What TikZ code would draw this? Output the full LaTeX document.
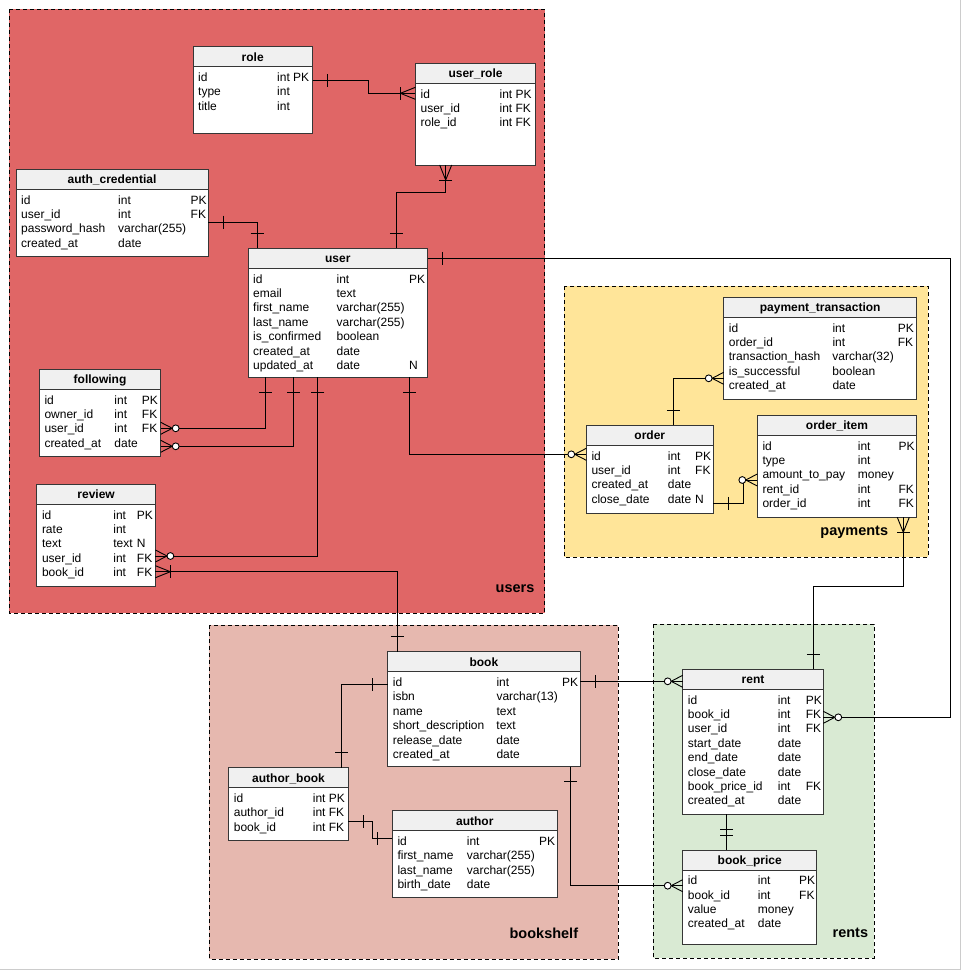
\documentclass[tikz,border=0pt]{standalone}
\RequirePackage{fontspec}
\setmainfont{Liberation Sans}
\RequirePackage{xcolor}
\RequirePackage{tikz}
\usetikzlibrary{calc, positioning}
\definecolor{usersred}{RGB}{224,102,102}
\definecolor{paymentsyellow}{RGB}{255,229,153}
\definecolor{bookshelfpink}{RGB}{230,184,175}
\definecolor{rentsgreen}{RGB}{217,234,211}
\definecolor{headgrey}{RGB}{240,240,240}
\definecolor{tblline}{RGB}{54,54,54}
\definecolor{edgegrey}{RGB}{204,204,204}

% #1 name, #2 x, #3 y, #4 width, #5 height, #6 title, #7 name col, #8 type col, #9 rows
\newcommand{\ertable}[9]{%
  \node[tbl, minimum width=#4pt, minimum height=#5pt] (#1) at (#2,#3) {};
  \node[tblhead, minimum width=#4pt] (#1-head) at (#1.north west) {};
  \node[anchor=base] (#1-title) at ($(#1.north)+(0,14.3)$) {\bfseries #6};
  \node[anchor=north west, inner sep=0pt] (#1-rows) at ($(#1.north west)+(5,24.5)$)
    {\begin{tabular}{@{}p{#7pt}@{}p{#8pt}@{}l@{}}#9\end{tabular}};
}

\begin{document}
\begin{tikzpicture}[x=1pt, y=-1pt, font=\fontsize{12}{14.4}\selectfont,
    tbl/.style={draw=tblline, line width=0.9pt, fill=white, anchor=north west, inner sep=0pt, outer sep=0pt},
    tblhead/.style={draw=tblline, line width=0.9pt, fill=headgrey, anchor=north west, inner sep=0pt, outer sep=0pt, minimum height=20pt},
    grp/.style={draw=black, line width=0.8pt, dash pattern=on 4pt off 3pt},
    grplabel/.style={anchor=base east, inner sep=0pt, font=\fontsize{14.5}{17}\selectfont\bfseries},
    rel/.style={draw=black, line width=0.9pt},
    erone/.pic={\draw[line width=0.9pt] (15,-6.5) -- (15,6.5);},
    ermany/.pic={\draw[line width=0.9pt] (0,-6) -- (15,0) -- (0,6);
                 \draw[line width=0.9pt] (15,-6.5) -- (15,6.5);},
    erzeromany/.pic={\draw[line width=0.9pt] (0,-6) -- (11.6,0) -- (0,6);
                     \draw[line width=0.9pt, fill=white] (15,0) circle (3.4);}]
\useasboundingbox[fill=white] (0,0) rectangle (961,970);
\draw[edgegrey, line width=1.2pt] (960.2,0) -- (960.2,969.2) -- (0,969.2);

% groups
\draw[grp, fill=usersred] (9.3,9.3) rectangle (544.6,613.3);
\draw[grp, fill=paymentsyellow] (564.3,286.3) rectangle (928.3,557.3);
\draw[grp, fill=bookshelfpink] (209.3,625.3) rectangle (618.3,959);
\draw[grp, fill=rentsgreen] (653.3,624.3) rectangle (874.3,958.3);
\node[grplabel] (users-label) at (534.6,592) {users};
\node[grplabel] (payments-label) at (888.3,535) {payments};
\node[grplabel] (bookshelf-label) at (578.3,938) {bookshelf};
\node[grplabel] (rents-label) at (868.3,937) {rents};

% users
\ertable{role}{193}{46.7}{119.5}{86.6}{role}{79}{40}{id & int PK & \\ type & int & \\ title & int &}
\ertable{user_role}{415.4}{63.3}{120.3}{101.7}{user\_role}{79}{40}{id & int PK & \\ user\_id & int FK & \\ role\_id & int FK &}
\ertable{auth_credential}{16}{169.3}{192}{86.7}{auth\_credential}{97}{72.5}{id & int & PK \\ user\_id & int & FK \\ password\_hash & varchar(255) & \\ created\_at & date &}
\ertable{user}{248}{248.3}{179.5}{129}{user}{83.4}{72.6}{id & int & PK \\ email & text & \\ first\_name & varchar(255) & \\ last\_name & varchar(255) & \\ is\_confirmed & boolean & \\ created\_at & date & \\ updated\_at & date & N}
\ertable{following}{39.3}{369.3}{121.4}{87.4}{following}{70}{27.5}{id & int & PK \\ owner\_id & int & FK \\ user\_id & int & FK \\ created\_at & date &}
\ertable{review}{36.8}{484.3}{118.6}{101.7}{review}{71.4}{23.6}{id & int & PK \\ rate & int & \\ text & text & N \\ user\_id & int & FK \\ book\_id & int & FK}

% payments
\ertable{payment_transaction}{723.7}{297.3}{193}{102}{payment\_transaction}{103.6}{65.4}{id & int & PK \\ order\_id & int & FK \\ transaction\_hash & varchar(32) & \\ is\_successful & boolean & \\ created\_at & date &}
\ertable{order}{586.3}{425.3}{127}{88}{order}{76.4}{27.3}{id & int & PK \\ user\_id & int & FK \\ created\_at & date & \\ close\_date & date & N}
\ertable{order_item}{757.3}{415.3}{159.4}{102}{order\_item}{95.4}{40.6}{id & int & PK \\ type & int & \\ amount\_to\_pay & money & \\ rent\_id & int & FK \\ order\_id & int & FK}

% bookshelf
\ertable{book}{387.7}{651.7}{192.3}{115}{book}{103.6}{65.7}{id & int & PK \\ isbn & varchar(13) & \\ name & text & \\ short\_description & text & \\ release\_date & date & \\ created\_at & date &}
\ertable{author_book}{228.7}{767.7}{119.6}{72.3}{author\_book}{79}{40}{id & int PK & \\ author\_id & int FK & \\ book\_id & int FK &}
\ertable{author}{392.3}{810.7}{165}{86.3}{author}{69.4}{72.3}{id & int & PK \\ first\_name & varchar(255) & \\ last\_name & varchar(255) & \\ birth\_date & date &}

% rents
\ertable{rent}{682.7}{669.3}{140.6}{144.7}{rent}{90}{28}{id & int & PK \\ book\_id & int & FK \\ user\_id & int & FK \\ start\_date & date & \\ end\_date & date & \\ close\_date & date & \\ book\_price\_id & int & FK \\ created\_at & date &}
\ertable{book_price}{682.7}{850}{134}{94}{book\_price}{70}{41.3}{id & int & PK \\ book\_id & int & FK \\ value & money & \\ created\_at & date &}

% relations
\draw[rel] ($(role.north east)+(0,34)$) coordinate (r1a) -- ++(55.5,0) |- ($(user_role.north west)+(0,30)$) coordinate (r1b);
\pic at (r1a) {erone};
\pic[rotate=180] at (r1b) {ermany};

\draw[rel] ($(user_role.south west)+(30.3,0)$) coordinate (r2a) -- ++(0,27.7) -| ($(user.north west)+(148.4,0)$) coordinate (r2b);
\pic[rotate=-90] at (r2a) {ermany};
\pic[rotate=90] at (r2b) {erone};

\draw[rel] ($(auth_credential.north east)+(0,52.7)$) coordinate (r3a) -| ($(user.north west)+(9,0)$) coordinate (r3b);
\pic at (r3a) {erone};
\pic[rotate=90] at (r3b) {erone};

\draw[rel] ($(user.north east)+(0,10)$) coordinate (r4a) -- ++(523.2,0) |- ($(rent.north east)+(0,48)$) coordinate (r4b);
\pic at (r4a) {erone};
\pic at (r4b) {erzeromany};

\draw[rel] ($(user.south west)+(17.4,0)$) coordinate (r5a) |- ($(following.north east)+(0,59)$) coordinate (r5b);
\pic[rotate=-90] at (r5a) {erone};
\pic at (r5b) {erzeromany};

\draw[rel] ($(user.south west)+(45.2,0)$) coordinate (r6a) |- ($(following.north east)+(0,77)$) coordinate (r6b);
\pic[rotate=-90] at (r6a) {erone};
\pic at (r6b) {erzeromany};

\draw[rel] ($(user.south west)+(69.9,0)$) coordinate (r7a) |- ($(review.north east)+(0,71.7)$) coordinate (r7b);
\pic[rotate=-90] at (r7a) {erone};
\pic at (r7b) {erzeromany};

\draw[rel] ($(user.south west)+(161.3,0)$) coordinate (r8a) |- ($(order.north west)+(0,29)$) coordinate (r8b);
\pic[rotate=-90] at (r8a) {erone};
\pic[rotate=180] at (r8b) {erzeromany};

\draw[rel] ($(review.north east)+(0,87.4)$) coordinate (r9a) -| ($(book.north west)+(9.6,0)$) coordinate (r9b);
\pic at (r9a) {ermany};
\pic[rotate=90] at (r9b) {erone};

\draw[rel] ($(order.north west)+(87,0)$) coordinate (r10a) |- ($(payment_transaction.north west)+(0,81)$) coordinate (r10b);
\pic[rotate=90] at (r10a) {erone};
\pic[rotate=180] at (r10b) {erzeromany};

\draw[rel] ($(order.north east)+(0,78)$) coordinate (r11a) -- ++(30,0) |- ($(order_item.north west)+(0,64.7)$) coordinate (r11b);
\pic at (r11a) {erone};
\pic[rotate=180] at (r11b) {erzeromany};

\draw[rel] ($(order_item.south west)+(146,0)$) coordinate (r12a) -- ++(0,69.4) -| ($(rent.north west)+(130.6,0)$) coordinate (r12b);
\pic[rotate=-90] at (r12a) {ermany};
\pic[rotate=90] at (r12b) {erone};

\draw[rel] ($(book.north west)+(0,32.6)$) coordinate (r13a) -| ($(author_book.north west)+(113,0)$) coordinate (r13b);
\pic[rotate=180] at (r13a) {erone};
\pic[rotate=90] at (r13b) {erone};

\draw[rel] ($(author_book.north east)+(0,54)$) coordinate (r14a) -- ++(24.4,0) |- ($(author.north west)+(0,27.6)$) coordinate (r14b);
\pic at (r14a) {erone};
\pic[rotate=180] at (r14b) {erone};

\draw[rel] ($(book.south west)+(183,0)$) coordinate (r15a) |- ($(book_price.north west)+(0,35.7)$) coordinate (r15b);
\pic[rotate=-90] at (r15a) {erone};
\pic[rotate=180] at (r15b) {erzeromany};

\draw[rel] ($(book.north east)+(0,29.6)$) coordinate (r16a) -- ($(rent.north west)+(0,12)$) coordinate (r16b);
\pic at (r16a) {erone};
\pic[rotate=180] at (r16b) {erzeromany};

\draw[rel] ($(rent.south west)+(44,0)$) coordinate (r17a) -- ($(book_price.north west)+(44,0)$) coordinate (r17b);
\pic[rotate=-90] at (r17a) {erone};
\pic[rotate=90] at (r17b) {erone};
\end{tikzpicture}
\end{document}
